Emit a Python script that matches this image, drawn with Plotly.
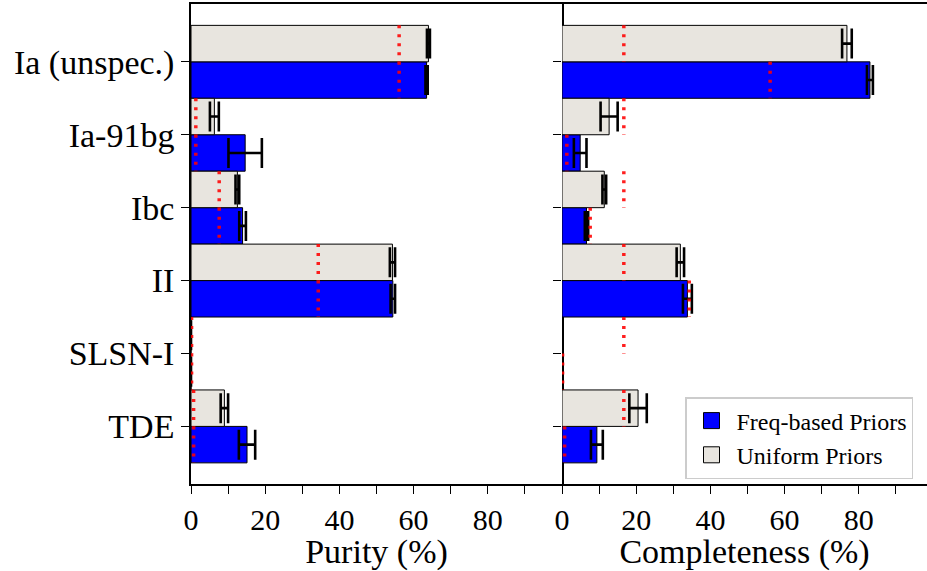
import plotly.graph_objects as go

categories = ["Ia (unspec.)", "Ia-91bg", "Ibc", "II", "SLSN-I", "TDE"]

purity_freq = [63.5, 14.6, 13.9, 54.4, 0.0, 15.1]
purity_freq_err = [0.3, 4.5, 0.9, 0.6, 0.0, 2.2]
purity_unif = [64.0, 6.3, 12.5, 54.3, 0.0, 9.0]
purity_unif_err = [0.4, 1.2, 0.5, 0.7, 0.0, 1.0]

comp_freq = [83.0, 4.9, 6.6, 33.8, 0.0, 9.4]
comp_freq_err = [0.8, 1.7, 0.45, 1.2, 0.0, 1.6]
comp_unif = [76.8, 12.7, 11.4, 31.9, 0.0, 20.5]
comp_unif_err = [1.3, 2.3, 0.5, 1.0, 0.0, 2.35]

# baseline (random-guess) levels
class_frac = [56.1, 1.3, 7.6, 34.3, 0.15, 0.7]
uniform_level = [100.0 / 6] * 6

tick_vals = [0, 20, 40, 60, 80]
minor_vals = [10, 30, 50, 70, 90]

BLUE = "#0000ff"
LINEN = "#e8e5df"
RED = "rgba(255,0,0,0.88)"
FONT = "Liberation Serif"

W, H = 927, 571
x0, xm, x1 = 191, 562, 927
ytop, ybot = 3.5, 484
xscale = (xm - x0) / 100.0

fig = go.Figure()

ypos = list(range(len(categories)))
y_unif = [i - 0.25 for i in ypos]
y_freq = [i + 0.25 for i in ypos]


def add_bars(xa, ya, freq, freq_err, unif, unif_err):
    fig.add_trace(go.Bar(
        x=freq, y=y_freq, orientation="h", width=0.5,
        marker=dict(color=BLUE, line=dict(color="black", width=1)),
        error_x=dict(type="data", array=freq_err, color="black", thickness=2.6, width=15),
        name="Freq-based Priors", showlegend=False, xaxis=xa, yaxis=ya,
    ))
    fig.add_trace(go.Bar(
        x=unif, y=y_unif, orientation="h", width=0.5,
        marker=dict(color=LINEN, line=dict(color="black", width=1)),
        error_x=dict(type="data", array=unif_err, color="black", thickness=2.6, width=15),
        name="Uniform Priors", showlegend=False, xaxis=xa, yaxis=ya,
    ))


def add_baseline(xa, ya, lvl_unif, lvl_freq):
    xs, ys = [], []
    for i in ypos:
        xs += [lvl_unif[i], lvl_unif[i], None]
        ys += [i - 0.5, i, None]
        xs += [lvl_freq[i], lvl_freq[i], None]
        ys += [i, i + 0.5, None]
    fig.add_trace(go.Scatter(
        x=xs, y=ys, mode="lines",
        line=dict(color=RED, width=3.5, dash="3px,6px"),
        showlegend=False, hoverinfo="skip", xaxis=xa, yaxis=ya,
    ))


add_bars("x", "y", purity_freq, purity_freq_err, purity_unif, purity_unif_err)
add_bars("x2", "y2", comp_freq, comp_freq_err, comp_unif, comp_unif_err)
add_baseline("x", "y", class_frac, class_frac)
add_baseline("x2", "y2", uniform_level, class_frac)

# legend entries (larger patches than the default bar swatch)
for name, col in [("Freq-based Priors", BLUE), ("Uniform Priors", LINEN)]:
    fig.add_trace(go.Scatter(
        x=[None], y=[None], mode="markers", name=name,
        marker=dict(symbol="square", size=16, color=col, line=dict(color="black", width=1)),
        xaxis="x2", yaxis="y2", showlegend=True,
    ))

dom_y = [(H - ybot) / H, (H - ytop) / H]
yrange = [5.79, -0.8]

common_x = dict(
    tickvals=tick_vals, ticks="outside", ticklen=8, tickwidth=1.3, tickcolor="black",
    showline=True, linecolor="black", linewidth=1.5, mirror=True,
    showgrid=False, zeroline=False, automargin=False,
    tickfont=dict(family=FONT, size=30, color="black"),
    minor=dict(tickvals=minor_vals, ticks="outside", ticklen=8, tickwidth=1.3, tickcolor="black"),
    title_font=dict(family=FONT, size=34, color="black"),
    title_standoff=6,
)

common_y = dict(
    range=yrange, tickvals=ypos,
    ticks="outside", ticklen=8, tickwidth=1.3, tickcolor="black",
    linecolor="black", linewidth=1.5,
    showgrid=False, zeroline=False, automargin=False, domain=dom_y,
)

fig.update_layout(
    width=W, height=H,
    margin=dict(l=0, r=0, t=0, b=0),
    paper_bgcolor="white", plot_bgcolor="white",
    barmode="overlay",
    font=dict(family=FONT, color="black"),
    xaxis=dict(domain=[x0 / W, xm / W], range=[0, 100], anchor="y",
               title_text="Purity (%)", **common_x),
    xaxis2=dict(domain=[xm / W, 1.0], range=[0, (x1 - xm) / xscale], anchor="y2",
                title_text="Completeness (%)", **common_x),
    yaxis=dict(ticktext=categories, mirror=True, showline=True,
               tickfont=dict(family=FONT, size=34, color="black"), **common_y),
    yaxis2=dict(showticklabels=False, showline=False, anchor="x2", **common_y),
    legend=dict(x=685 / W, y=1 - 397 / H, xanchor="left", yanchor="top",
                bgcolor="white", bordercolor="#cccccc", borderwidth=1.5,
                font=dict(family=FONT, size=24, color="black"),
                traceorder="normal", itemsizing="trace", itemwidth=40),
)

fig.write_html("out.html")
